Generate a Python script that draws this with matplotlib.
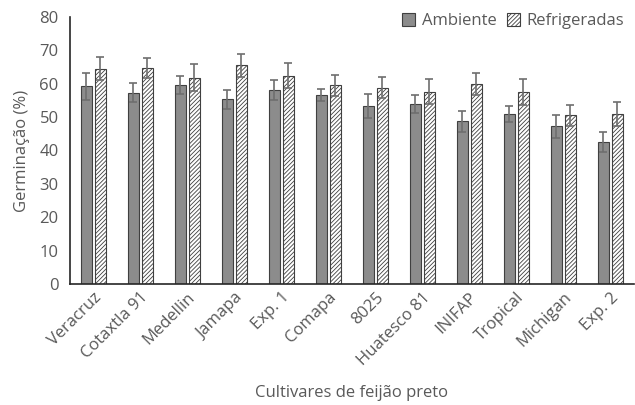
import numpy as np
import matplotlib
matplotlib.use("Agg")
import matplotlib.pyplot as plt

# === データ ===
cultivares = ["Veracruz", "Cotaxtla 91", "Medellin", "Jamapa", "Exp. 1", "Comapa",
              "8025", "Huatesco 81", "INIFAP", "Tropical", "Michigan", "Exp. 2"]
ambiente = [59.2, 57.3, 59.7, 55.3, 58.0, 56.7, 53.3, 53.9, 48.7, 51.0, 47.2, 42.5]
ambiente_err = [4.0, 2.8, 2.7, 2.8, 3.0, 1.8, 3.6, 2.8, 3.2, 2.4, 3.5, 3.0]
refrigeradas = [64.5, 64.6, 61.8, 65.5, 62.4, 59.5, 58.8, 57.6, 59.9, 57.5, 50.5, 51.0]
refrigeradas_err = [3.5, 3.0, 4.0, 3.5, 3.7, 3.2, 3.2, 3.8, 3.2, 3.8, 3.2, 3.6]

# === スタイル ===
plt.rcParams['font.family'] = ['Open Sans', 'DejaVu Sans']
plt.rcParams['hatch.linewidth'] = 0.6
plt.rcParams['hatch.color'] = '#404040'
TXT = '#595959'
FS = 12

fig = plt.figure(figsize=(6.35, 4.05), dpi=100)
ax = fig.add_axes([0.110, 0.299, 0.888, 0.659])

x = np.arange(len(cultivares))
w = 0.23
gap = 0.035

ax.bar(x - w / 2 - gap, ambiente, w, color='#8c8c8c', edgecolor='#404040',
       linewidth=0.8, label='Ambiente', zorder=2)
ax.bar(x + w / 2 + gap, refrigeradas, w, color='white', edgecolor='#404040',
       hatch='////////', linewidth=0.8, label='Refrigeradas', zorder=2)

ax.errorbar(x - w / 2 - gap, ambiente, yerr=ambiente_err, fmt='none',
            ecolor='#6e6e6e', elinewidth=1.2, capsize=3, capthick=1.2, zorder=3)
ax.errorbar(x + w / 2 + gap, refrigeradas, yerr=refrigeradas_err, fmt='none',
            ecolor='#6e6e6e', elinewidth=1.2, capsize=3, capthick=1.2, zorder=3)

ax.set_ylim(0, 80)
ax.set_yticks(range(0, 81, 10))
ax.set_xlim(-0.5, len(cultivares) - 0.5)
ax.set_xticks(x)
ax.set_xticklabels(cultivares, rotation=45, ha='right', rotation_mode='anchor')

ax.tick_params(axis='both', length=0, labelsize=FS, colors=TXT, pad=8)
ax.tick_params(axis='x', pad=4)
for s in ['top', 'right']:
    ax.spines[s].set_visible(False)
for s in ['left', 'bottom']:
    ax.spines[s].set_color('#262626')
    ax.spines[s].set_linewidth(1.2)

ax.set_ylabel('Germinação (%)', fontsize=FS, color=TXT, labelpad=7)
ax.set_xlabel('Cultivares de feijão preto', fontsize=FS, color=TXT, labelpad=12)

leg = ax.legend(loc='upper right', bbox_to_anchor=(1.01, 1.07), ncol=2, frameon=False,
                fontsize=FS, handlelength=0.8, handleheight=0.8,
                handletextpad=0.4, columnspacing=0.6)
for t in leg.get_texts():
    t.set_color(TXT)

fig.savefig('out.png', dpi=100)
